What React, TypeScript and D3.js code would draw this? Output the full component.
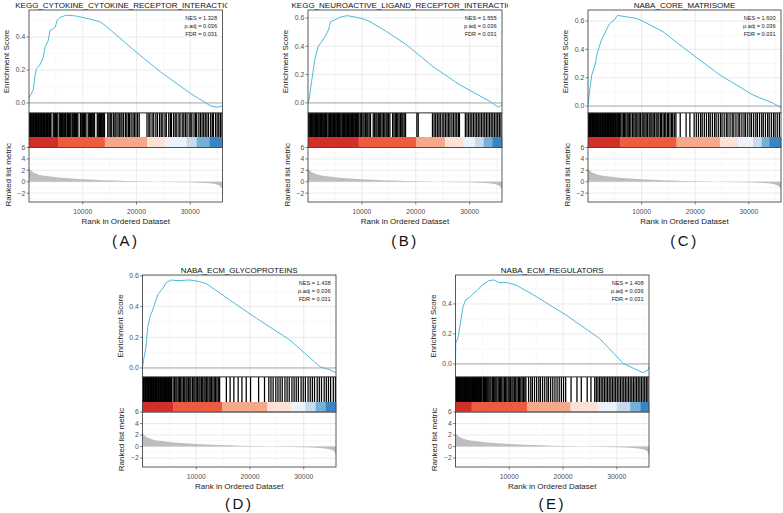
import React from 'react';
import * as d3 from 'd3';

// ---------------- DATA ----------------
const RANK_MAX = 36000;
const rankTicks = [10000, 20000, 30000];
const rankMinorTicks = [5000, 15000, 25000, 35000];
const metricTicks = [-2, 0, 2, 4, 6];
const metricMinorTicks = [-3, -1, 1, 3, 5];

const titles = [
  'KEGG_CYTOKINE_CYTOKINE_RECEPTOR_INTERACTION',
  'KEGG_NEUROACTIVE_LIGAND_RECEPTOR_INTERACTION',
  'NABA_CORE_MATRISOME',
  'NABA_ECM_GLYCOPROTEINS',
  'NABA_ECM_REGULATORS',
];
const panelLabels = ['(A)', '(B)', '(C)', '(D)', '(E)'];
const nesValues = ['1.328', '1.555', '1.600', '1.438', '1.408'];
const padjValues = ['0.036', '0.036', '0.036', '0.036', '0.036'];
const fdrValues = ['0.031', '0.031', '0.031', '0.031', '0.031'];

const esTicksA = [0, 0.2, 0.4];
const esTicksB = [0, 0.2, 0.4, 0.6];
const esTicksC = [0, 0.2, 0.4, 0.6];
const esTicksD = [0, 0.2, 0.4, 0.6];
const esTicksE = [0, 0.2, 0.4];

// running enrichment score: [rank (thousands), ES]
const esA = [[0,0.03],[0.8,0.08],[1.1,0.16],[1.4,0.21],[2.0,0.23],[2.6,0.27],[3.0,0.34],[3.6,0.38],[3.9,0.44],[4.5,0.45],[4.9,0.46],[5.2,0.5],[5.8,0.52],[7.0,0.533],[8.9,0.527],[10.8,0.513],[12.0,0.503],[13.2,0.493],[14.5,0.462],[19.5,0.32],[24.4,0.19],[30.0,0.059],[33.8,-0.018],[35.0,-0.026],[36.0,-0.018]];
const esB = [[0,0],[0.2,0.02],[0.7,0.16],[1.3,0.315],[1.9,0.4],[2.5,0.43],[3.2,0.47],[3.8,0.515],[4.2,0.574],[5.0,0.586],[5.9,0.605],[7.2,0.616],[8.4,0.609],[10.3,0.593],[11.5,0.574],[14.6,0.503],[18.3,0.41],[23.2,0.256],[28.2,0.127],[33.8,0.01],[35.3,-0.03],[36,-0.014]];
const esC = [[0,0.007],[0.4,0.136],[0.7,0.22],[1.3,0.29],[1.7,0.37],[2.5,0.466],[3.4,0.536],[4.0,0.58],[4.9,0.607],[5.5,0.64],[7.1,0.63],[9.0,0.619],[10.2,0.6],[14.0,0.524],[18.4,0.395],[24.6,0.219],[30.8,0.078],[34.6,0.019],[36,-0.012]];
const esD = [[0,0.005],[0.2,0.05],[0.6,0.128],[1.0,0.27],[1.4,0.335],[1.9,0.378],[2.5,0.444],[3.0,0.487],[3.8,0.52],[4.4,0.556],[5.3,0.574],[6.6,0.57],[8.8,0.574],[10.6,0.563],[11.9,0.55],[16.2,0.444],[21.2,0.324],[27.4,0.183],[33,0.008],[34.9,-0.013],[35.8,-0.03],[36,-0.025]];
const esE = [[0,0.004],[0.05,0.138],[0.5,0.18],[1.0,0.293],[1.4,0.382],[1.9,0.427],[2.8,0.449],[3.4,0.471],[4.1,0.493],[5.0,0.527],[6.2,0.555],[7.1,0.56],[8.1,0.542],[9.6,0.542],[11.2,0.527],[14.3,0.465],[20.6,0.325],[26.8,0.17],[31.2,0.004],[33.1,-0.029],[34.9,-0.058],[35.8,-0.04],[36,-0.02]];

// hit positions (rank, thousands)
const hitsA = [0.02,0.15,0.3,0.42,0.55,0.7,0.82,0.95,1.1,1.22,1.36,1.5,1.63,1.78,1.9,2.05,2.18,2.32,2.46,2.6,2.73,2.88,3.0,3.15,3.28,3.42,3.56,3.7,3.83,3.98,4.1,
  4.5,4.65,4.8,4.95,5.1,5.25,5.6,5.75,5.9,6.05,6.2,6.35,6.5,6.65,6.8,7.05,7.2,7.35,7.5,7.65,7.8,8.05,8.2,8.35,8.5,8.65,8.8,8.95,9.1,
  9.55,9.7,9.85,10.0,10.15,10.3,10.45,10.6,11.0,11.15,11.3,11.45,11.6,11.75,11.9,12.05,12.2,12.7,12.85,13.0,13.15,13.3,13.45,13.6,13.75,13.9,14.05,
  14.65,14.9,15.2,15.4,15.75,16.0,16.2,16.55,16.8,17.1,17.3,17.6,17.95,18.2,18.5,18.7,19.0,19.35,19.6,19.9,20.2,20.5,
  21.95,22.3,22.5,22.9,23.2,23.6,23.9,24.3,24.6,24.9,25.3,25.55,26.0,26.3,26.5,26.9,27.2,27.5,27.9,28.1,28.5,28.8,29.1,29.4,29.8,30.1,30.3,30.7,31.0,31.2,31.6,31.9,32.2,32.5,32.8,33.1,33.4,33.8,34.1,34.3,34.7,35.0,35.3,35.6,35.9];
const hitsB = [0.05,0.2,0.35,0.5,0.65,0.8,0.95,1.1,1.25,1.4,1.55,1.75,1.9,2.05,2.2,2.35,2.5,2.65,2.8,2.95,3.1,3.25,3.4,3.55,3.85,4.0,4.15,4.3,4.45,4.6,4.75,4.9,5.05,5.2,5.35,5.5,5.65,5.8,5.95,6.1,6.3,6.45,6.6,6.75,6.9,7.05,7.2,7.35,7.5,7.65,7.8,7.95,8.1,8.25,8.4,8.55,8.7,8.85,9.0,9.15,9.3,9.45,
  9.7,9.95,10.2,10.4,10.65,10.9,11.1,11.35,11.6,12.1,12.35,12.6,12.8,13.05,13.3,13.5,13.75,14.0,14.25,14.5,14.7,14.95,15.2,15.7,15.95,16.2,16.4,16.65,16.9,17.15,17.4,17.6,17.85,18.1,
  20.2,20.45,23.1,23.4,23.7,24.0,24.3,24.55,24.9,25.2,25.5,25.8,26.1,26.35,26.7,27.0,27.3,27.6,27.9,28.1,29.2,29.5,29.8,30.1,30.4,30.7,31.0,31.3,31.6,31.9,32.2,32.5,32.8,33.1,33.4,33.7,34.0,34.3,34.6,34.9,35.2,35.5,35.8];
const hitsC = [0.05,0.18,0.3,0.45,0.6,0.72,0.85,1.0,1.12,1.25,1.4,1.52,1.65,1.8,1.92,2.05,2.2,2.32,2.45,2.6,2.72,2.85,3.0,3.12,3.25,3.4,3.52,3.65,3.8,3.92,4.05,4.2,4.32,4.45,4.6,4.72,4.85,5.0,5.12,5.25,5.4,5.55,5.7,5.85,
  6.1,6.35,6.6,6.8,7.05,7.3,7.5,7.75,8.0,8.3,8.55,8.8,9.0,9.3,9.55,9.8,10.1,10.3,10.6,10.85,11.1,11.4,11.6,11.9,12.15,12.4,12.7,12.9,13.2,13.5,13.7,14.0,14.25,14.5,14.8,15.0,15.3,15.6,15.8,16.1,16.4,
  17.2,18.3,19.0,19.8,20.2,20.6,21.0,21.3,21.7,22.1,22.5,22.8,23.2,23.6,23.9,24.3,24.7,25.0,25.4,25.8,26.1,26.5,26.9,27.2,27.6,28.0,28.3,28.7,29.1,29.4,29.8,30.2,30.5,30.9,31.3,31.6,32.0,32.4,32.7,33.1,33.5,33.8,34.2,34.6,34.9,35.3,35.7];
const hitsD = [0.05,0.18,0.3,0.45,0.58,0.7,0.85,0.98,1.1,1.25,1.38,1.5,1.65,1.78,1.9,2.05,2.18,2.3,2.45,2.58,2.7,2.85,2.98,3.1,3.25,3.38,3.5,3.65,3.78,3.9,4.05,4.18,4.3,4.45,4.58,4.7,4.85,4.98,5.1,5.25,5.4,
  5.7,5.95,6.2,6.4,6.65,6.9,7.1,7.35,7.6,7.85,8.1,8.3,8.55,8.8,9.0,9.3,9.55,9.75,10.0,10.25,10.5,10.7,10.95,11.2,11.45,11.65,11.9,12.15,12.4,12.6,12.85,13.1,13.35,13.6,13.85,14.1,14.35,
  15.6,16.3,17.0,17.8,18.5,19.3,20.1,21.6,22.7,
  23.5,23.9,24.3,24.8,25.2,25.6,26.0,26.5,26.9,27.3,27.8,28.2,28.6,29.0,29.5,29.9,30.3,30.8,31.2,31.6,32.0,32.5,32.9,33.3,33.8,34.2,34.6,35.0,35.5,35.9];
const hitsE = [0.05,0.18,0.3,0.42,0.55,0.68,0.8,0.92,1.05,1.18,1.3,1.42,1.55,1.68,1.8,1.92,2.05,2.18,2.3,2.42,2.55,2.68,2.8,2.92,3.05,3.18,3.3,3.42,3.55,3.68,3.8,3.92,4.05,4.18,4.3,4.42,4.55,4.68,4.8,4.95,
  5.2,5.4,5.6,5.8,6.0,6.2,6.4,6.6,6.85,7.05,7.3,7.5,7.7,7.95,8.2,8.4,8.6,8.85,9.1,9.3,9.55,9.8,10.0,10.25,10.5,10.7,10.95,11.2,11.45,11.7,11.9,12.15,12.4,12.65,12.9,13.1,
  13.6,14.0,14.3,14.7,15.1,15.5,15.8,16.2,16.6,17.0,17.3,17.7,18.1,18.5,18.9,19.3,19.7,20.1,20.5,
  21.5,22.6,23.4,24.5,25.2,
  25.9,26.2,26.5,26.8,27.1,27.4,27.7,28.0,28.3,28.6,28.9,29.2,29.5,29.8,30.1,30.4,30.7,31.0,31.3,31.6,31.9,32.2,32.5,32.8,33.1,33.4,33.7,34.0,34.3,34.6,34.9,35.2,35.5,35.8];

// colour bar segment boundaries (rank, thousands)
const barBreaksA = [0, 5.4, 14.1, 22.0, 25.3, 29.3, 31.2, 33.6, 36];
const barBreaksB = [0, 9.4, 20.1, 25.4, 28.9, 31.0, 32.6, 34.2, 36];
const barBreaksC = [0, 6.0, 16.5, 24.6, 28.0, 30.8, 32.4, 33.8, 36];
const barBreaksD = [0, 5.75, 14.8, 23.2, 27.6, 30.3, 32.2, 34.1, 36];
const barBreaksE = [0, 3.0, 13.3, 21.4, 26.6, 30.0, 32.5, 34.4, 36];
const barColors = ['#D32F2A', '#EE5C40', '#F5A88B', '#FCE2D6', '#ECF1FA', '#C8DAEE', '#74B0D8', '#3A84C1'];

// ranked list metric (shared ranking)
const metricRanks = [0, 0.1, 0.3, 0.6, 1, 1.5, 2, 3, 4, 5, 6.5, 8, 10, 12, 14, 16, 18, 20, 22, 24, 26, 28, 30, 31.5, 33, 34, 34.8, 35.4, 35.8, 36];
const metricValues = [2.6, 2.25, 2.0, 1.75, 1.55, 1.35, 1.2, 1.02, 0.9, 0.78, 0.66, 0.56, 0.45, 0.36, 0.28, 0.21, 0.15, 0.09, 0.05, 0.01, -0.03, -0.07, -0.11, -0.16, -0.24, -0.33, -0.45, -0.65, -0.95, -1.5];

// ---------------- LAYOUT ----------------
const row1 = { top: 10, esBottom: 113, hitBottom: 137, colorBottom: 147.5, rankBottom: 202, labelY: 246 };
const row2 = { top: 275, esBottom: 377, hitBottom: 402, colorBottom: 412, rankBottom: 467, labelY: 509 };
const panels = [
  { ...row1, left: 29, right: 222.5, esDomain: [-0.061, 0.564], esTicks: esTicksA, es: esA, hits: hitsA, breaks: barBreaksA, clipL: 0, clipR: 227.5 },
  { ...row1, left: 308, right: 502, esDomain: [-0.071, 0.656], esTicks: esTicksB, es: esB, hits: hitsB, breaks: barBreaksB, clipL: 262, clipR: 508 },
  { ...row1, left: 588, right: 781, esDomain: [-0.049, 0.678], esTicks: esTicksC, es: esC, hits: hitsC, breaks: barBreaksC, clipL: 540, clipR: 783 },
  { ...row2, left: 142.5, right: 336, esDomain: [-0.059, 0.6065], esTicks: esTicksD, es: esD, hits: hitsD, breaks: barBreaksD, clipL: 100, clipR: 400 },
  { ...row2, left: 455.5, right: 649, esDomain: [-0.087, 0.593], esTicks: esTicksE, es: esE, hits: hitsE, breaks: barBreaksE, clipL: 410, clipR: 700 },
];

const FONT = '"Liberation Sans", Arial, Helvetica, sans-serif';
const BORDER = '#333333';
const GRID_MAJOR = '#E3E3E3';
const GRID_MINOR = '#F1F1F1';
const TICK_TEXT = '#4D4D4D';

function Panel({ p, i }: { p: any; i: number }) {
  const x = d3.scaleLinear().domain([0, RANK_MAX]).range([p.left, p.right]);
  const yEs = d3.scaleLinear().domain(p.esDomain).range([p.esBottom, p.top]);
  const yM = d3.scaleLinear().domain([-3.55, 6]).range([p.rankBottom, p.colorBottom]);
  const esStep = p.esTicks[1] - p.esTicks[0];
  const esMinor: number[] = [];
  for (let k = 0; k < p.esTicks.length; k++) {
    const v = p.esTicks[k] + esStep / 2;
    if (v < p.esDomain[1]) esMinor.push(v);
  }
  const esLine = d3.line<number[]>().x(d => x(d[0] * 1000)).y(d => yEs(d[1]));
  const metricData = metricRanks.map((r, k) => [r, metricValues[k]]);
  const area = d3.area<number[]>().x(d => x(d[0] * 1000)).y0(yM(0)).y1(d => yM(d[1]));
  const clipId = `clip${i}`;
  const titleClip = `tclip${i}`;
  const cx = (p.left + p.right) / 2;
  const w = p.right - p.left;
  return (
    <g>
      <defs>
        <clipPath id={clipId}><rect x={p.left} y={p.top} width={w} height={p.rankBottom - p.top} /></clipPath>
        <clipPath id={titleClip}><rect x={p.clipL} y={p.top - 14} width={p.clipR - p.clipL} height={14} /></clipPath>
      </defs>
      {/* title */}
      <text x={cx} y={p.top - 2} textAnchor="middle" fontSize={8} fontFamily={FONT} fill="#111" clipPath={`url(#${titleClip})`}>{titles[i]}</text>

      {/* ES panel background + grid */}
      <rect x={p.left} y={p.top} width={w} height={p.esBottom - p.top} fill="#fff" />
      {esMinor.map(v => <line key={'em' + v} x1={p.left} x2={p.right} y1={yEs(v)} y2={yEs(v)} stroke={GRID_MINOR} strokeWidth={0.5} />)}
      {rankMinorTicks.map(v => <line key={'evm' + v} x1={x(v)} x2={x(v)} y1={p.top} y2={p.esBottom} stroke={GRID_MINOR} strokeWidth={0.5} />)}
      {p.esTicks.map((v: number) => <line key={'eg' + v} x1={p.left} x2={p.right} y1={yEs(v)} y2={yEs(v)} stroke={GRID_MAJOR} strokeWidth={0.7} />)}
      {rankTicks.map(v => <line key={'evg' + v} x1={x(v)} x2={x(v)} y1={p.top} y2={p.esBottom} stroke={GRID_MAJOR} strokeWidth={0.7} />)}
      <line x1={p.left} x2={p.right} y1={yEs(0)} y2={yEs(0)} stroke="#9A9A9A" strokeWidth={0.8} />
      <path d={esLine(p.es) || ''} fill="none" stroke="#4DBAD9" strokeWidth={1} clipPath={`url(#${clipId})`} />
      <rect x={p.left} y={p.top} width={w} height={p.esBottom - p.top} fill="none" stroke={BORDER} strokeWidth={0.8} />
      {p.esTicks.map((v: number) => (
        <g key={'et' + v}>
          <line x1={p.left - 2.5} x2={p.left} y1={yEs(v)} y2={yEs(v)} stroke={BORDER} strokeWidth={0.6} />
          <text x={p.left - 3.8} y={yEs(v) + 2.4} textAnchor="end" fontSize={6.8} fontFamily={FONT} fill={TICK_TEXT}>{d3.format('.1f')(v)}</text>
        </g>
      ))}
      <text transform={`translate(${p.left - 22.5},${(p.top + p.esBottom) / 2}) rotate(-90)`} textAnchor="middle" dy="0.35em" fontSize={8} fontFamily={FONT} fill="#222">Enrichment Score</text>

      {/* stats */}
      <text x={p.right - 5.5} y={p.top + 9.5} textAnchor="end" fontSize={5.6} fontFamily={FONT} fill="#222">{`NES = ${nesValues[i]}`}</text>
      <text x={p.right - 5.5} y={p.top + 17.8} textAnchor="end" fontSize={5.6} fontFamily={FONT} fill="#222">{`p.adj = ${padjValues[i]}`}</text>
      <text x={p.right - 5.5} y={p.top + 26} textAnchor="end" fontSize={5.6} fontFamily={FONT} fill="#222">{`FDR = ${fdrValues[i]}`}</text>

      {/* hits */}
      <rect x={p.left} y={p.esBottom} width={w} height={p.hitBottom - p.esBottom} fill="#fff" />
      <g clipPath={`url(#${clipId})`}>
        {p.hits.map((h: number, k: number) => (
          <line key={'h' + k} x1={x(h * 1000)} x2={x(h * 1000)} y1={p.esBottom} y2={p.hitBottom} stroke="#000" strokeWidth={1.25} />
        ))}
      </g>
      {/* colour bar */}
      {barColors.map((c, k) => (
        <rect key={'cb' + k} x={x(p.breaks[k] * 1000)} y={p.hitBottom} width={x(p.breaks[k + 1] * 1000) - x(p.breaks[k] * 1000) + 0.3} height={p.colorBottom - p.hitBottom} fill={c} />
      ))}
      <rect x={p.left} y={p.esBottom} width={w} height={p.colorBottom - p.esBottom} fill="none" stroke={BORDER} strokeWidth={0.8} />

      {/* ranked metric panel */}
      {metricMinorTicks.map(v => <line key={'mm' + v} x1={p.left} x2={p.right} y1={yM(v)} y2={yM(v)} stroke={GRID_MINOR} strokeWidth={0.5} />)}
      {rankMinorTicks.map(v => <line key={'mvm' + v} x1={x(v)} x2={x(v)} y1={p.colorBottom} y2={p.rankBottom} stroke={GRID_MINOR} strokeWidth={0.5} />)}
      {metricTicks.map(v => <line key={'mg' + v} x1={p.left} x2={p.right} y1={yM(v)} y2={yM(v)} stroke={GRID_MAJOR} strokeWidth={0.7} />)}
      {rankTicks.map(v => <line key={'mvg' + v} x1={x(v)} x2={x(v)} y1={p.colorBottom} y2={p.rankBottom} stroke={GRID_MAJOR} strokeWidth={0.7} />)}
      <path d={area(metricData) || ''} fill="#BEBEBE" clipPath={`url(#${clipId})`} />
      <rect x={p.left} y={p.colorBottom} width={w} height={p.rankBottom - p.colorBottom} fill="none" stroke={BORDER} strokeWidth={0.8} />
      {metricTicks.map(v => (
        <g key={'mt' + v}>
          <line x1={p.left - 2.5} x2={p.left} y1={yM(v)} y2={yM(v)} stroke={BORDER} strokeWidth={0.6} />
          <text x={p.left - 3.8} y={yM(v) + 2.4} textAnchor="end" fontSize={6.8} fontFamily={FONT} fill={TICK_TEXT}>{d3.format('d')(v)}</text>
        </g>
      ))}
      {rankTicks.map(v => (
        <g key={'xt' + v}>
          <line x1={x(v)} x2={x(v)} y1={p.rankBottom} y2={p.rankBottom + 2.5} stroke={BORDER} strokeWidth={0.6} />
          <text x={x(v)} y={p.rankBottom + 11.5} textAnchor="middle" fontSize={6.8} fontFamily={FONT} fill={TICK_TEXT}>{v}</text>
        </g>
      ))}
      <text transform={`translate(${p.left - 21},${(p.colorBottom + p.rankBottom) / 2}) rotate(-90)`} textAnchor="middle" dy="0.35em" fontSize={8} fontFamily={FONT} fill="#222">Ranked list metric</text>
      <text x={cx} y={p.rankBottom + 22} textAnchor="middle" fontSize={8} fontFamily={FONT} fill="#222">Rank in Ordered Dataset</text>

      {/* panel label */}
      <text x={cx} y={p.labelY} textAnchor="middle" fontSize={15} letterSpacing={2.5} fontFamily={FONT} fill="#111">{panelLabels[i]}</text>
    </g>
  );
}

export default function App() {
  return (
    <svg width={783} height={513} viewBox="0 0 783 513" style={{ position: 'absolute', left: 0, top: 0, background: '#fff' }}>
      <rect width={783} height={513} fill="#fff" />
      {panels.map((p, i) => <Panel key={i} p={p} i={i} />)}
    </svg>
  );
}
